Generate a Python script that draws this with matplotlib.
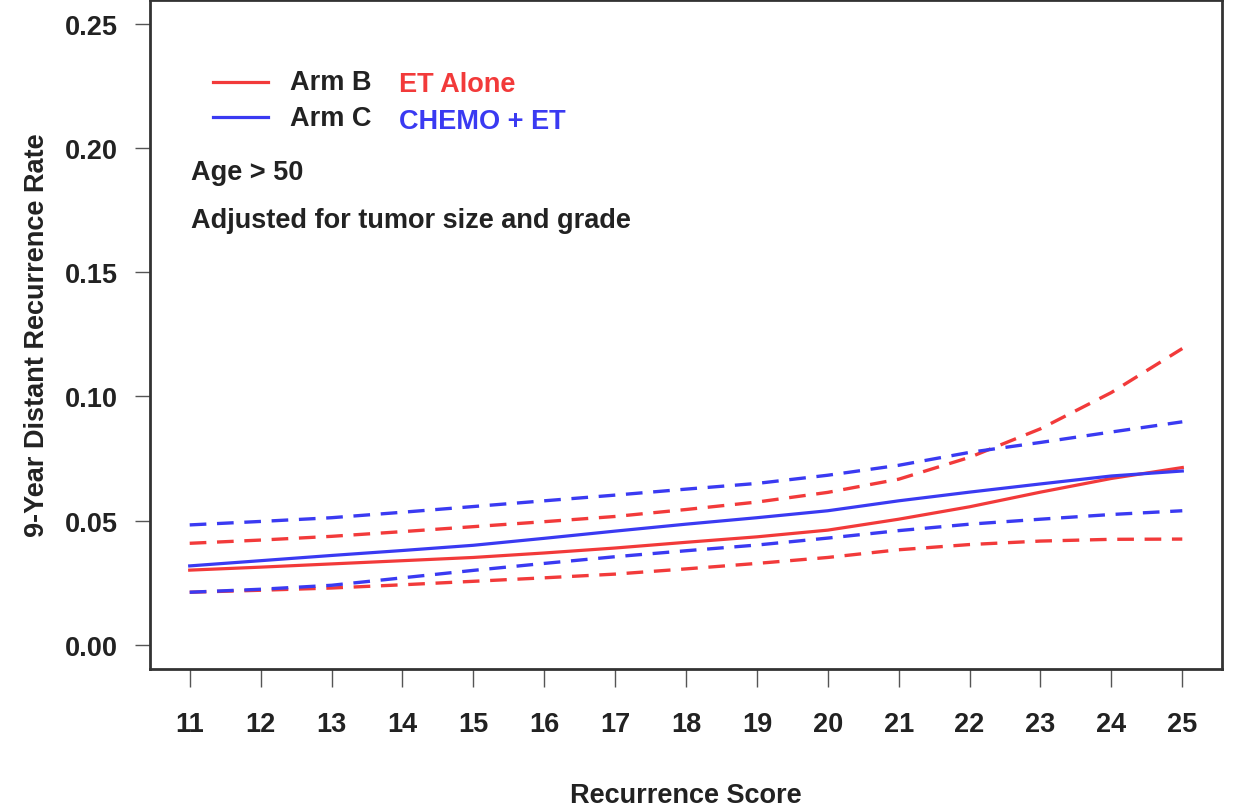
import numpy as np
import matplotlib.pyplot as plt
from matplotlib.lines import Line2D

plt.rcParams['font.family'] = ['Liberation Sans', 'DejaVu Sans']

# recurrence score
score = np.arange(11, 26)

# Arm B - ET alone
armb_est = [0.0301, 0.0313, 0.0326, 0.0339, 0.0352, 0.0370, 0.0390, 0.0413,
            0.0435, 0.0462, 0.0506, 0.0556, 0.0615, 0.0670, 0.0714]
armb_hi = [0.0409, 0.0422, 0.0437, 0.0456, 0.0476, 0.0496, 0.0517, 0.0545,
           0.0575, 0.0614, 0.0667, 0.0755, 0.0870, 0.1016, 0.1193]
armb_lo = [0.0212, 0.0220, 0.0229, 0.0242, 0.0256, 0.0270, 0.0285, 0.0306,
           0.0328, 0.0352, 0.0383, 0.0404, 0.0418, 0.0425, 0.0426]

# Arm C - chemo + ET
armc_est = [0.0318, 0.0339, 0.0360, 0.0380, 0.0401, 0.0429, 0.0458, 0.0486,
            0.0512, 0.0540, 0.0580, 0.0615, 0.0648, 0.0680, 0.0700]
armc_hi = [0.0483, 0.0497, 0.0512, 0.0534, 0.0557, 0.0580, 0.0603, 0.0627,
           0.0650, 0.0683, 0.0723, 0.0775, 0.0815, 0.0857, 0.0898]
armc_lo = [0.0212, 0.0224, 0.0240, 0.0270, 0.0300, 0.0328, 0.0355, 0.0379,
           0.0402, 0.0430, 0.0460, 0.0486, 0.0506, 0.0525, 0.0540]

yticks = [0.00, 0.05, 0.10, 0.15, 0.20, 0.25]

RED = '#f23a3a'
BLUE = '#3a3af2'
W, H = 1243, 812
FS = 19.5

fig = plt.figure(figsize=(W / 100, H / 100), dpi=100)
ax = fig.add_axes([150 / W, 1 - 670 / H, (1222 - 150) / W, 669 / H])

dash = (5, 3.2)
ax.plot(score, armb_est, color=RED, lw=2.3)
ax.plot(score, armb_hi, color=RED, lw=2.4, dashes=dash)
ax.plot(score, armb_lo, color=RED, lw=2.4, dashes=dash)
ax.plot(score, armc_est, color=BLUE, lw=2.3)
ax.plot(score, armc_hi, color=BLUE, lw=2.4, dashes=dash)
ax.plot(score, armc_lo, color=BLUE, lw=2.4, dashes=dash)

ax.set_xlim(10.44, 25.56)
ax.set_ylim(-0.0097, 0.2596)
ax.set_xticks(score)
ax.set_yticks(yticks)
ax.set_yticklabels([f'{v:.2f}' for v in yticks])

for s in ax.spines.values():
    s.set_linewidth(2)
    s.set_color('#333333')
ax.tick_params(axis='x', length=13, width=1, color='#555555', pad=17,
               labelsize=FS, direction='out')
ax.tick_params(axis='y', length=11, width=1, color='#555555', pad=12,
               labelsize=FS, direction='out')
for lab in ax.get_xticklabels() + ax.get_yticklabels():
    lab.set_fontweight('bold')
    lab.set_color('#222222')

ax.set_xlabel('Recurrence Score', fontsize=FS, fontweight='bold', color='#222222')
ax.set_ylabel('9-Year Distant Recurrence Rate', fontsize=FS, fontweight='bold',
              color='#222222')
ax.xaxis.set_label_coords(0.5, -(796 - 670) / 669)
ax.yaxis.set_label_coords(-(150 - 37) / 1072, 0.5)
ax.yaxis.label.set_va('center')
ax.xaxis.label.set_va('center')

# legend drawn by hand
fig.add_artist(Line2D([213 / W, 268 / W], [1 - 83 / H, 1 - 83 / H], color=RED, lw=2.3))
fig.add_artist(Line2D([213 / W, 268 / W], [1 - 118 / H, 1 - 118 / H], color=BLUE, lw=2.3))


def put(x, y, s, color='#222222'):
    fig.text(x / W, 1 - y / H, s, fontsize=FS, fontweight='bold', color=color,
             ha='left', va='center')


put(290, 83, 'Arm B')
put(290, 119, 'Arm C')
put(399, 85, 'ET Alone', RED)
put(399, 122, 'CHEMO + ET', BLUE)
put(191, 173, 'Age > 50')
put(191, 221, 'Adjusted for tumor size and grade')

fig.savefig('out.png', dpi=100)
